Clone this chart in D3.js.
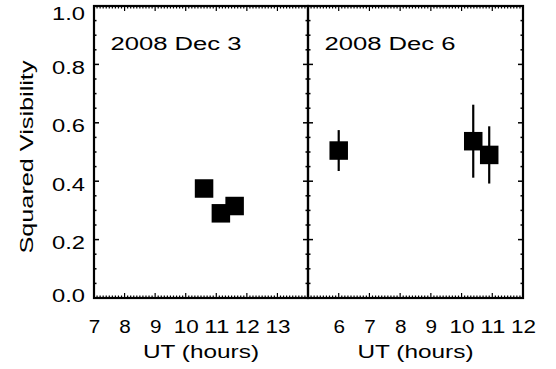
<!DOCTYPE html>
<html>
<head>
<meta charset="utf-8">
<script src="https://cdn.jsdelivr.net/npm/d3@7"></script>
<style>
  body { margin: 0; background: #fff; }
  text { font-family: "Liberation Sans", Arial, sans-serif; fill: #000; font-size: 18px; }
</style>
</head>
<body>
<svg id="chart" width="556" height="369"></svg>
<script>
// data
var dec3_hours = [10.6, 11.15, 11.6];
var dec3_vis   = [0.375, 0.29, 0.315];
var dec3_err   = [0, 0, 0];

var dec6_hours = [6.0, 10.38, 10.9];
var dec6_vis   = [0.505, 0.537, 0.49];
var dec6_err   = [0.07, 0.125, 0.098];

var yTicks = [0.0, 0.2, 0.4, 0.6, 0.8, 1.0];
var dec3_xTicks = [7, 8, 9, 10, 11, 12, 13];
var dec6_xTicks = [6, 7, 8, 9, 10, 11, 12];

var svg = d3.select("#chart");

var top_y = 6, bottom_y = 298;

// the original font is wide, so stretch text to the widths seen in the picture
function numLen(s) {
  var n = 0;
  for (var i = 0; i < s.length; i++) n += (s[i] === ".") ? 6 : 13.5;
  return n;
}

var y = d3.scaleLinear()
  .domain([0, 1])
  .range([bottom_y, top_y]);

var panels = [
  {label: "2008 Dec 3", x0: 94, x1: 308, domain: [7, 14], ticks: dec3_xTicks,
   hours: dec3_hours, vis: dec3_vis, err: dec3_err},
  {label: "2008 Dec 6", x0: 308, x1: 523, domain: [5, 12], ticks: dec6_xTicks,
   hours: dec6_hours, vis: dec6_vis, err: dec6_err}
];

panels.forEach(function(p) {
  var x = d3.scaleLinear().domain(p.domain).range([p.x0, p.x1]);
  var g = svg.append("g");

  // minor ticks on x (10 per hour)
  var minorX = d3.range(p.domain[0] * 10, p.domain[1] * 10 + 1).map(function(v){ return v / 10; });
  minorX.forEach(function(v) {
    var major = Math.abs(v - Math.round(v)) < 1e-6;
    var len = major ? 5 : 2.5;
    g.append("line").attr("x1", x(v)).attr("x2", x(v))
      .attr("y1", bottom_y).attr("y2", bottom_y - len)
      .attr("stroke", "#000").attr("stroke-width", 1.2);
    g.append("line").attr("x1", x(v)).attr("x2", x(v))
      .attr("y1", top_y).attr("y2", top_y + len)
      .attr("stroke", "#000").attr("stroke-width", 1.2);
  });

  // minor ticks on y (0.05)
  d3.range(0, 21).map(function(v){ return v / 20; }).forEach(function(v) {
    var major = (Math.round(v * 20) % 4) === 0;
    var len = major ? 5 : 2.5;
    g.append("line").attr("x1", p.x0).attr("x2", p.x0 + len)
      .attr("y1", y(v)).attr("y2", y(v))
      .attr("stroke", "#000").attr("stroke-width", 1.5);
    g.append("line").attr("x1", p.x1).attr("x2", p.x1 - len)
      .attr("y1", y(v)).attr("y2", y(v))
      .attr("stroke", "#000").attr("stroke-width", 1.5);
  });

  // frame
  g.append("rect")
    .attr("x", p.x0).attr("y", top_y)
    .attr("width", p.x1 - p.x0).attr("height", bottom_y - top_y)
    .attr("fill", "none").attr("stroke", "#000").attr("stroke-width", 2.2);

  // x tick labels
  g.selectAll("text.xt")
    .data(p.ticks)
    .enter()
      .append("text")
      .attr("class", "xt")
      .attr("x", function(d) { return x(d) + 0.5; })
      .attr("y", 333)
      .attr("text-anchor", "middle")
      .attr("textLength", function(d) { return numLen(String(d)) - 2; })
      .attr("lengthAdjust", "spacingAndGlyphs")
      .text(function(d) { return d; });

  g.append("text")
    .attr("x", (p.x0 + p.x1) / 2)
    .attr("y", 358)
    .attr("text-anchor", "middle")
    .attr("textLength", 116)
    .attr("lengthAdjust", "spacingAndGlyphs")
    .text("UT (hours)");

  g.append("text")
    .attr("x", p.x0 + 16.5)
    .attr("y", 50)
    .attr("textLength", 131)
    .attr("lengthAdjust", "spacingAndGlyphs")
    .text(p.label);

  var pts = p.hours.map(function(h, i) { return {h: h, v: p.vis[i], e: p.err[i]}; });

  // error bars
  g.selectAll("line.err")
    .data(pts.filter(function(d){ return d.e > 0; }))
    .enter()
      .append("line")
      .attr("class", "err")
      .attr("x1", function(d) { return x(d.h); })
      .attr("x2", function(d) { return x(d.h); })
      .attr("y1", function(d) { return y(d.v - d.e); })
      .attr("y2", function(d) { return y(d.v + d.e); })
      .attr("stroke", "#000").attr("stroke-width", 2.2);

  var s = 18.5;
  g.selectAll("rect.pt")
    .data(pts)
    .enter()
      .append("rect")
      .attr("class", "pt")
      .attr("x", function(d) { return x(d.h) - s / 2; })
      .attr("y", function(d) { return y(d.v) - s / 2; })
      .attr("width", s).attr("height", s)
      .attr("fill", "#000");
});

// y tick labels
svg.selectAll("text.yt")
  .data(yTicks)
  .enter()
    .append("text")
    .attr("class", "yt")
    .attr("x", 85)
    .attr("y", function(d) { return Math.min(Math.max(y(d) + 9.5, 20), 302); })
    .attr("text-anchor", "end")
    .attr("textLength", 33)
    .attr("lengthAdjust", "spacingAndGlyphs")
    .text(function(d) { return d.toFixed(1); });

svg.append("text")
  .attr("transform", "translate(33,157) rotate(-90)")
  .attr("text-anchor", "middle")
  .attr("textLength", 193)
  .attr("lengthAdjust", "spacingAndGlyphs")
  .text("Squared Visibility");
</script>
</body>
</html>
